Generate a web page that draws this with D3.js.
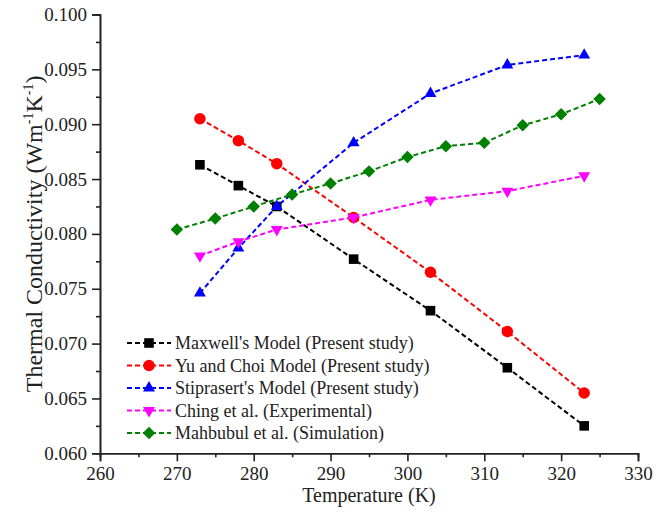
<!DOCTYPE html>
<html>
<head>
<meta charset="utf-8">
<script src="https://cdn.jsdelivr.net/npm/d3@7"></script>
<style>
  html, body { margin: 0; padding: 0; background: #fff; }
  svg { display: block; }
  text { font-family: "Liberation Serif", "Times New Roman", serif; fill: #222; }
</style>
</head>
<body>
<svg id="chart" width="666" height="513"></svg>
<script>
// Temperatures (K) at which the three models and the experiment are evaluated
const tempModel = [273, 278, 283, 293, 303, 313, 323];
// Temperatures (K) for the simulation series
const tempSim = [270, 275, 280, 285, 290, 295, 300, 305, 310, 315, 320, 325];

// Thermal conductivity (W m^-1 K^-1)
const maxwell    = [0.0863, 0.0844, 0.0825, 0.0777, 0.0730, 0.0678, 0.0625];
const yuChoi     = [0.0905, 0.0885, 0.0864, 0.0815, 0.0765, 0.0711, 0.0655];
const stiprasert = [0.0746, 0.0787, 0.0825, 0.0883, 0.0928, 0.0954, 0.0963];
const ching      = [0.0780, 0.0793, 0.0804, 0.0815, 0.0831, 0.0839, 0.0853];
const mahbubul   = [0.0804, 0.0814, 0.0825, 0.0836, 0.0846, 0.0857, 0.0870, 0.0880, 0.0883, 0.0899, 0.0909, 0.0923];

const seriesNames = [
  "Maxwell's Model (Present study)",
  "Yu and Choi Model (Present study)",
  "Stiprasert's Model (Present study)",
  "Ching et al. (Experimental)",
  "Mahbubul et al. (Simulation)"
];

const xTicks = [260, 270, 280, 290, 300, 310, 320, 330];
const yTicks = [0.060, 0.065, 0.070, 0.075, 0.080, 0.085, 0.090, 0.095, 0.100];

const series = [
  { name: seriesNames[0], x: tempModel, y: maxwell,    color: "#000000", shape: "square" },
  { name: seriesNames[1], x: tempModel, y: yuChoi,     color: "#ff0000", shape: "circle" },
  { name: seriesNames[2], x: tempModel, y: stiprasert, color: "#0000ff", shape: "triangleUp" },
  { name: seriesNames[3], x: tempModel, y: ching,      color: "#ff00ff", shape: "triangleDown" },
  { name: seriesNames[4], x: tempSim,   y: mahbubul,   color: "#008000", shape: "diamond" }
];

const svg = d3.select("#chart");
const plotLeft = 100, plotRight = 638, plotTop = 14.5, plotBottom = 453.3;

const x = d3.scaleLinear().domain([260, 330]).range([plotLeft, plotRight]);
const y = d3.scaleLinear().domain([0.060, 0.100]).range([plotBottom, plotTop]);

// Marker generator for each symbol shape
function markerPath(shape) {
  const gen = {
    square:       d3.symbol(d3.symbolSquare, 92),
    circle:       d3.symbol(d3.symbolCircle, 104),
    triangleUp:   d3.symbol(d3.symbolTriangle, 62),
    triangleDown: d3.symbol(d3.symbolTriangle, 62),
    diamond:      d3.symbol(d3.symbolSquare, 78)
  }[shape];
  return gen();
}
function markerTransform(shape, px, py) {
  if (shape === "triangleDown") return `translate(${px},${py}) rotate(180)`;
  if (shape === "diamond") return `translate(${px},${py}) rotate(45)`;
  return `translate(${px},${py})`;
}

// Axes: minor ticks first, then major ticks with labels
const axisColor = "#222";
const xMinor = d3.range(265, 330, 10);
const yMinor = d3.range(0.0625, 0.1, 0.005);

const gx = svg.append("g").attr("transform", `translate(0,${plotBottom})`);
gx.call(d3.axisBottom(x).tickValues(xMinor).tickSize(4).tickFormat(""));
gx.append("g").call(d3.axisBottom(x).tickValues(xTicks).tickSize(8).tickPadding(5).tickFormat(d3.format("d")));

const gy = svg.append("g").attr("transform", `translate(${plotLeft},0)`);
gy.call(d3.axisLeft(y).tickValues(yMinor).tickSize(4).tickFormat(""));
gy.append("g").call(d3.axisLeft(y).tickValues(yTicks).tickSize(8).tickPadding(5).tickFormat(d3.format(".3f")));

svg.selectAll(".domain").attr("stroke", axisColor).attr("stroke-width", 1.6);
svg.selectAll(".tick line").attr("stroke", axisColor).attr("stroke-width", 1.6);
svg.selectAll(".tick text")
  .attr("fill", "#222")
  .style("font-family", '"Liberation Serif", serif')
  .style("font-size", "19px");

// Axis titles
svg.append("text")
  .attr("x", (plotLeft + plotRight) / 2)
  .attr("y", 502)
  .attr("text-anchor", "middle")
  .style("font-size", "20px")
  .text("Temperature (K)");

const yTitle = svg.append("text")
  .attr("transform", `translate(42,${(plotTop + plotBottom) / 2}) rotate(-90)`)
  .attr("text-anchor", "middle")
  .style("font-size", "24px");
yTitle.append("tspan").text("Thermal Conductivity (Wm");
yTitle.append("tspan").attr("dy", -9).style("font-size", "14px").text("-1");
yTitle.append("tspan").attr("dy", 9).text("K");
yTitle.append("tspan").attr("dy", -9).style("font-size", "14px").text("-1");
yTitle.append("tspan").attr("dy", 9).text(")");

// Dashed lines and markers, drawn in series order so later ones sit on top
const line = d3.line().x(d => x(d[0])).y(d => y(d[1]));
series.forEach(s => {
  const pts = s.x.map((t, i) => [t, s.y[i]]);
  const g = svg.append("g");
  g.append("path")
    .attr("d", line(pts))
    .attr("fill", "none")
    .attr("stroke", s.color)
    .attr("stroke-width", 2)
    .attr("stroke-dasharray", "5,3");
  g.selectAll("path.mk").data(pts).enter().append("path")
    .attr("class", "mk")
    .attr("d", markerPath(s.shape))
    .attr("transform", d => markerTransform(s.shape, x(d[0]), y(d[1])))
    .attr("fill", s.color);
});

// Legend
const legend = svg.append("g");
const legendY0 = 343, legendStep = 22.5;
series.forEach((s, i) => {
  const ly = legendY0 + i * legendStep;
  legend.append("line")
    .attr("x1", 127).attr("x2", 171).attr("y1", ly).attr("y2", ly)
    .attr("stroke", s.color).attr("stroke-width", 2)
    .attr("stroke-dasharray", "5,3");
  legend.append("path")
    .attr("d", markerPath(s.shape))
    .attr("transform", markerTransform(s.shape, 149, ly))
    .attr("fill", s.color);
  legend.append("text")
    .attr("x", 175).attr("y", ly + 6)
    .style("font-size", "18px")
    .text(s.name);
});
</script>
</body>
</html>
